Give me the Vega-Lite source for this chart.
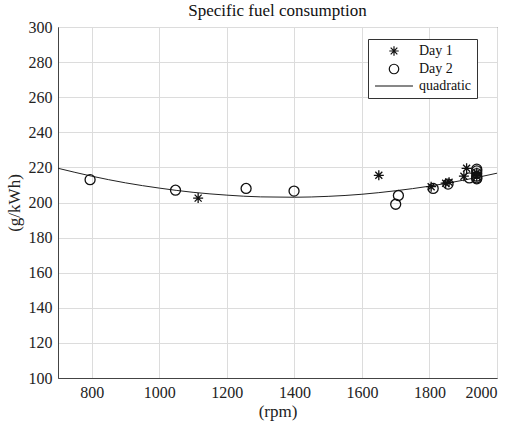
{
  "$schema": "https://vega.github.io/schema/vega-lite/v6.json",
  "width": 439,
  "height": 351,
  "autosize": "none",
  "padding": {"left": 58, "top": 27, "right": 18, "bottom": 44},
  "background": "white",
  "config": {
    "font": "Liberation Serif",
    "view": {"stroke": "#444", "strokeWidth": 1},
    "axis": {
      "labelFont": "Liberation Serif",
      "titleFont": "Liberation Serif",
      "labelFontSize": 16,
      "titleFontSize": 17,
      "titleFontWeight": "normal",
      "labelColor": "#222",
      "titleColor": "#222",
      "gridColor": "#dcdcdc",
      "gridWidth": 1,
      "domainColor": "#444",
      "ticks": false,
      "labelPadding": 6
    },
    "title": {"font": "Liberation Serif", "fontSize": 17, "fontWeight": "normal", "color": "#111", "offset": -1}
  },
  "title": "Specific fuel consumption",
  "datasets": {
    "pts": [
      {"rpm": 1115, "sfc": 202.5, "series": "Day 1"},
      {"rpm": 1650, "sfc": 215.5, "series": "Day 1"},
      {"rpm": 1805, "sfc": 209, "series": "Day 1"},
      {"rpm": 1848, "sfc": 211, "series": "Day 1"},
      {"rpm": 1858, "sfc": 211.5, "series": "Day 1"},
      {"rpm": 1902, "sfc": 215, "series": "Day 1"},
      {"rpm": 1910, "sfc": 219.5, "series": "Day 1"},
      {"rpm": 1940, "sfc": 217, "series": "Day 1"},
      {"rpm": 1940, "sfc": 215, "series": "Day 1"},
      {"rpm": 795, "sfc": 213, "series": "Day 2"},
      {"rpm": 1048, "sfc": 207, "series": "Day 2"},
      {"rpm": 1257, "sfc": 208, "series": "Day 2"},
      {"rpm": 1399, "sfc": 206.5, "series": "Day 2"},
      {"rpm": 1700, "sfc": 199, "series": "Day 2"},
      {"rpm": 1708, "sfc": 204, "series": "Day 2"},
      {"rpm": 1811, "sfc": 208, "series": "Day 2"},
      {"rpm": 1855, "sfc": 210.5, "series": "Day 2"},
      {"rpm": 1918, "sfc": 214, "series": "Day 2"},
      {"rpm": 1940, "sfc": 219, "series": "Day 2"},
      {"rpm": 1940, "sfc": 218, "series": "Day 2"},
      {"rpm": 1940, "sfc": 216.5, "series": "Day 2"},
      {"rpm": 1940, "sfc": 215, "series": "Day 2"},
      {"rpm": 1940, "sfc": 214, "series": "Day 2"},
      {"rpm": 1940, "sfc": 213.5, "series": "Day 2"}
    ],
    "fit": [
      {"rpm": 700, "sfc": 219.5},
      {"rpm": 800, "sfc": 215.0},
      {"rpm": 900, "sfc": 211.2},
      {"rpm": 1000, "sfc": 208.2},
      {"rpm": 1100, "sfc": 205.8},
      {"rpm": 1200, "sfc": 204.2},
      {"rpm": 1300, "sfc": 203.2},
      {"rpm": 1400, "sfc": 203.0},
      {"rpm": 1500, "sfc": 203.5},
      {"rpm": 1600, "sfc": 204.7},
      {"rpm": 1700, "sfc": 206.7},
      {"rpm": 1800, "sfc": 209.3},
      {"rpm": 1900, "sfc": 212.7},
      {"rpm": 2000, "sfc": 216.7}
    ]
  },
  "encoding": {
    "x": {
      "field": "rpm", "type": "quantitative", "title": "(rpm)",
      "scale": {"domain": [700, 2000], "nice": false, "zero": false},
      "axis": {"values": [800, 1000, 1200, 1400, 1600, 1800, 2000], "format": "d", "titlePadding": 3}
    },
    "y": {
      "field": "sfc", "type": "quantitative", "title": "(g/kWh)",
      "scale": {"domain": [100, 300], "nice": false, "zero": false},
      "axis": {"values": [100, 120, 140, 160, 180, 200, 220, 240, 260, 280, 300], "format": "d", "titlePadding": 5}
    }
  },
  "layer": [
    {
      "data": {"name": "fit"},
      "mark": {"type": "line", "color": "#222", "strokeWidth": 1, "interpolate": "monotone", "clip": true}
    },
    {
      "data": {"name": "pts"},
      "mark": {"type": "point", "filled": false, "strokeWidth": 1.3, "size": 100, "opacity": 1},
      "encoding": {
        "shape": {
          "field": "series", "type": "nominal",
          "scale": {
            "domain": ["Day 1", "Day 2", "quadratic"],
            "range": ["M0,-1L0,1M-1,0L1,0M-0.7,-0.7L0.7,0.7M-0.7,0.7L0.7,-0.7", "circle", "M-4,0L4,0"]
          },
          "legend": {
            "title": null,
            "orient": "none",
            "legendX": 310,
            "legendY": 12,
            "direction": "vertical",
            "strokeColor": "#333",
            "fillColor": "white",
            "padding": 5,
            "labelFont": "Liberation Serif",
            "labelFontSize": 14,
            "labelColor": "#111",
            "symbolStrokeColor": "#111",
            "symbolFillColor": "transparent",
            "symbolStrokeWidth": 1.2,
            "symbolSize": 90,
            "symbolOffset": 14,
            "rowPadding": 2,
            "labelOffset": 18
          }
        },
        "color": {"value": "#111"}
      }
    }
  ]
}
